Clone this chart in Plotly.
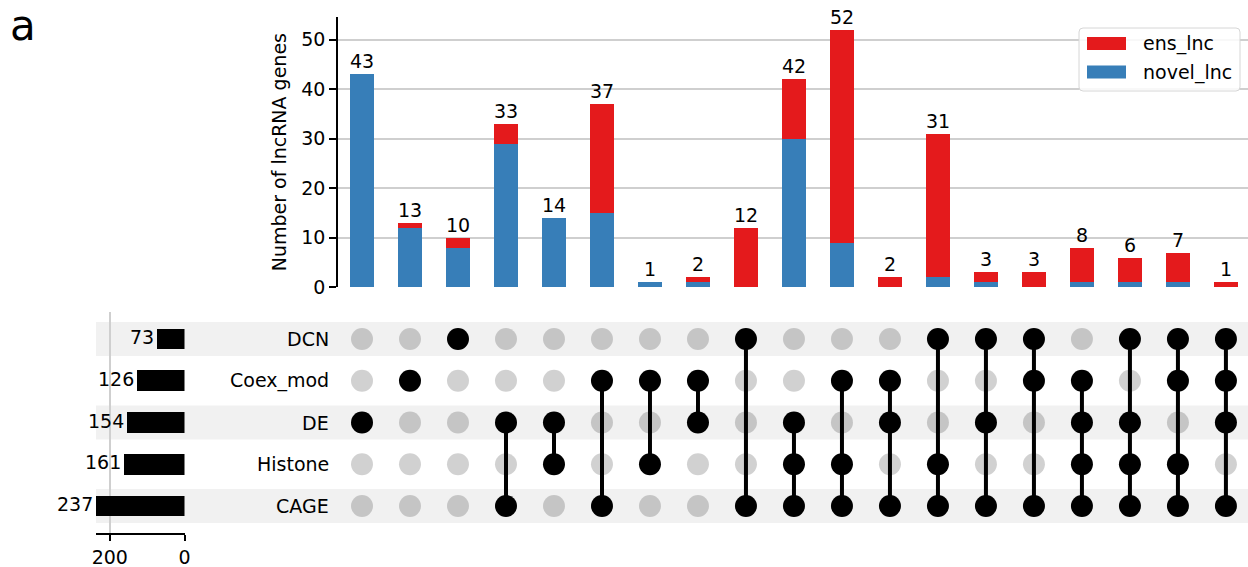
import plotly.graph_objects as go

# ---- data -------------------------------------------------------------
sets = ["DCN", "Coex_mod", "DE", "Histone", "CAGE"]
set_sizes = [73, 126, 154, 161, 237]

memberships = [
    ["DE"],
    ["Coex_mod"],
    ["DCN"],
    ["DE", "CAGE"],
    ["DE", "Histone"],
    ["Coex_mod", "CAGE"],
    ["Coex_mod", "Histone"],
    ["Coex_mod", "DE"],
    ["DCN", "CAGE"],
    ["DE", "Histone", "CAGE"],
    ["Coex_mod", "Histone", "CAGE"],
    ["Coex_mod", "DE", "CAGE"],
    ["DCN", "Histone", "CAGE"],
    ["DCN", "DE", "CAGE"],
    ["DCN", "Coex_mod", "CAGE"],
    ["Coex_mod", "DE", "Histone", "CAGE"],
    ["DCN", "DE", "Histone", "CAGE"],
    ["DCN", "Coex_mod", "Histone", "CAGE"],
    ["DCN", "Coex_mod", "DE", "CAGE"],
]
novel_lnc = [43, 12, 8, 29, 14, 15, 1, 1, 0, 30, 9, 0, 2, 1, 0, 1, 1, 1, 0]
ens_lnc = [0, 1, 2, 4, 0, 22, 0, 1, 12, 12, 43, 2, 29, 2, 3, 7, 5, 6, 1]

# ---- styling ----------------------------------------------------------
RED = "#e41a1c"
BLUE = "#377eb8"
FONT = "DejaVu Sans"
FS = 19
W, H = 1248, 567


def py(px):
    """pixel row -> paper y"""
    return 1 - px / H


def pxx(px):
    """pixel column -> paper x"""
    return px / W


n = len(memberships)
cols = list(range(n))
totals = [a + b for a, b in zip(novel_lnc, ens_lnc)]

fig = go.Figure()

# stacked intersection bars
fig.add_trace(go.Bar(x=cols, y=novel_lnc, name="novel_lnc", marker_color=BLUE,
                     marker_line_width=0, width=0.5, xaxis="x", yaxis="y",
                     showlegend=False))
fig.add_trace(go.Bar(x=cols, y=ens_lnc, name="ens_lnc", marker_color=RED,
                     marker_line_width=0, width=0.5, xaxis="x", yaxis="y",
                     showlegend=False))

# connecting lines in the matrix
lx, ly = [], []
for c, members in enumerate(memberships):
    rows = [sets.index(s) for s in members]
    if len(rows) > 1:
        lx += [c, c, None]
        ly += [min(rows), max(rows), None]
fig.add_trace(go.Scatter(x=lx, y=ly, mode="lines", line=dict(color="black", width=4),
                         xaxis="x2", yaxis="y2", showlegend=False, hoverinfo="skip"))

# inactive / active dots
ix, iy, ax_, ay = [], [], [], []
for c, members in enumerate(memberships):
    for r, s in enumerate(sets):
        if s in members:
            ax_.append(c); ay.append(r)
        else:
            ix.append(c); iy.append(r)
fig.add_trace(go.Scatter(x=ix, y=iy, mode="markers",
                         marker=dict(size=22, color="rgba(0,0,0,0.18)", line_width=0),
                         xaxis="x2", yaxis="y2", showlegend=False, hoverinfo="skip"))
fig.add_trace(go.Scatter(x=ax_, y=ay, mode="markers",
                         marker=dict(size=22, color="black", line_width=0),
                         xaxis="x2", yaxis="y2", showlegend=False, hoverinfo="skip"))

# set size bars
fig.add_trace(go.Bar(x=set_sizes, y=list(range(len(sets))), orientation="h",
                     marker_color="black", marker_line_width=0, width=0.5,
                     xaxis="x3", yaxis="y3", showlegend=False))

annotations = []
# totals above stacks
for c, t in enumerate(totals):
    annotations.append(dict(x=c, y=t, xref="x", yref="y", text=str(t), showarrow=False,
                            yanchor="bottom", yshift=0,
                            font=dict(family=FONT, size=FS, color="black")))
# set size labels
for r, v in enumerate(set_sizes):
    annotations.append(dict(x=v, y=r, xref="x3", yref="y3", text=str(v), showarrow=False,
                            xanchor="right", xshift=-1, yshift=2,
                            font=dict(family=FONT, size=FS, color="black")))
# set names
for r, s in enumerate(sets):
    annotations.append(dict(x=pxx(331), y=r, xref="paper", yref="y2", text=s, showarrow=False,
                            xanchor="right", font=dict(family=FONT, size=FS, color="black")))
# panel letter
annotations.append(dict(x=pxx(9), y=1, xref="paper", yref="paper", text="a",
                        showarrow=False, xanchor="left", yanchor="top", borderpad=0,
                        font=dict(family=FONT, size=42, color="black")))

# legend (box, colour patches, labels)
legend_items = [("ens_lnc", RED), ("novel_lnc", BLUE)]
shapes = []
bx0, bx1, by0, by1, rad = 1079, 1240, 28, 91, 4
path = (f"M {pxx(bx0 + rad)},{py(by0)} L {pxx(bx1 - rad)},{py(by0)} "
        f"Q {pxx(bx1)},{py(by0)} {pxx(bx1)},{py(by0 + rad)} "
        f"L {pxx(bx1)},{py(by1 - rad)} Q {pxx(bx1)},{py(by1)} {pxx(bx1 - rad)},{py(by1)} "
        f"L {pxx(bx0 + rad)},{py(by1)} Q {pxx(bx0)},{py(by1)} {pxx(bx0)},{py(by1 - rad)} "
        f"L {pxx(bx0)},{py(by0 + rad)} Q {pxx(bx0)},{py(by0)} {pxx(bx0 + rad)},{py(by0)} Z")
shapes.append(dict(type="path", xref="paper", yref="paper", path=path,
                   fillcolor="rgba(255,255,255,0.85)", line=dict(color="#d6d6d6", width=1),
                   layer="above"))
for k, (label, color) in enumerate(legend_items):
    cy = 43.5 + 28.5 * k
    shapes.append(dict(type="rect", xref="paper", yref="paper",
                       x0=pxx(1087), x1=pxx(1126), y0=py(cy - 6.5), y1=py(cy + 6.5),
                       fillcolor=color, line_width=0, layer="above"))
    annotations.append(dict(x=pxx(1141), y=py(cy), xref="paper", yref="paper", text=label,
                            showarrow=False, xanchor="left", yanchor="middle",
                            font=dict(family=FONT, size=FS, color="black")))

# shaded matrix rows
for r in range(0, len(sets), 2):
    shapes.append(dict(type="rect", xref="paper", yref="y2", x0=pxx(96), x1=1,
                       y0=r - 0.41, y1=r + 0.41, fillcolor="#f1f1f1",
                       line_width=0, layer="below"))

row_range = [4.647, -0.647]
row_domain = [py(533), py(312)]
col_range = [-0.5, 18.46]
col_domain = [pxx(338), 1]

fig.update_layout(
    width=W, height=H, autosize=False,
    margin=dict(l=0, r=0, t=0, b=0, autoexpand=False),
    paper_bgcolor="white", plot_bgcolor="rgba(0,0,0,0)",
    barmode="stack", bargap=0, showlegend=False,
    font=dict(family=FONT, size=FS, color="black"),
    annotations=annotations, shapes=shapes,
    xaxis=dict(domain=col_domain, range=col_range, anchor="y", showticklabels=False,
               ticks="", showgrid=False, zeroline=False, showline=False,
               automargin=False),
    yaxis=dict(domain=[py(287.3), py(17)], range=[0, 54.6], anchor="x",
               tickvals=[0, 10, 20, 30, 40, 50], showgrid=True, gridcolor="#cfcfcf",
               gridwidth=1.5, zeroline=False, showline=True, linecolor="black",
               linewidth=1.5, ticks="outside", ticklen=7, tickwidth=1.5,
               tickcolor="black", tickfont=dict(size=FS), automargin=False,
               title=dict(text="Number of lncRNA genes", standoff=10,
                          font=dict(size=FS))),
    xaxis2=dict(domain=col_domain, range=col_range, anchor="y2", visible=False,
                automargin=False),
    yaxis2=dict(domain=row_domain, range=row_range, anchor="x2", visible=False,
                automargin=False),
    xaxis3=dict(domain=[pxx(96), pxx(184.5)], range=[237, 0], anchor="y3",
                tickvals=[0, 200], showgrid=True, gridcolor="#cfcfcf", gridwidth=1.5,
                zeroline=False, showline=True, linecolor="black", linewidth=1.5,
                ticks="outside", ticklen=6, tickwidth=1.5, tickcolor="black",
                tickfont=dict(size=FS), automargin=False),
    yaxis3=dict(domain=row_domain, range=row_range, anchor="x3", visible=False,
                automargin=False),
)

fig.write_html("out.html")
